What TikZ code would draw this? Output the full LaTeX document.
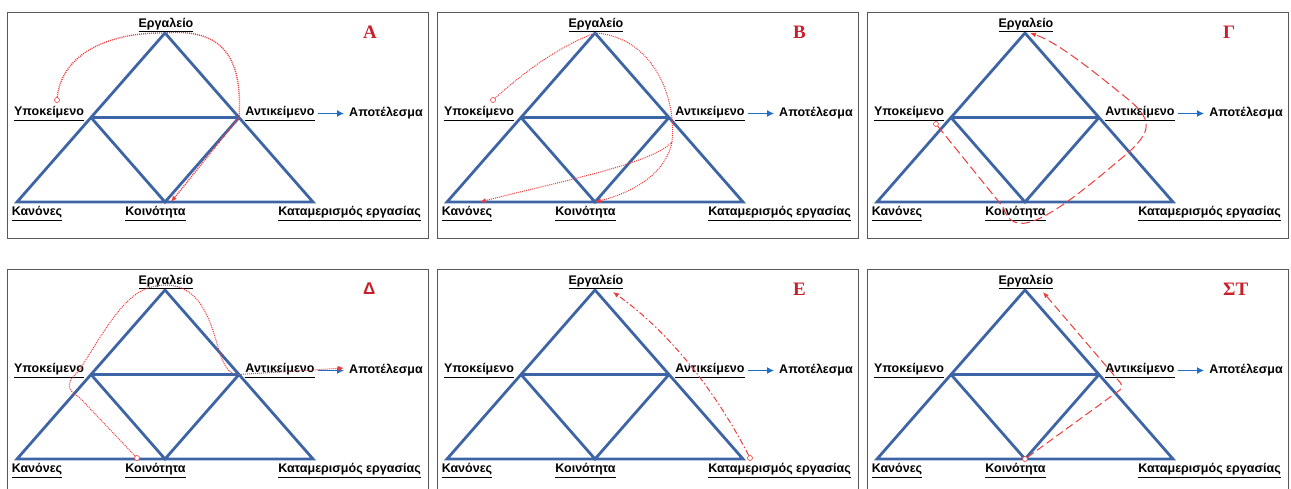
\documentclass[tikz,border=0pt]{standalone}
\usepackage{fontspec}
\setmainfont{Liberation Sans}
\newfontfamily\letterserif{Liberation Serif}
\usetikzlibrary{
    arrows.meta,
    calc,
    positioning
}
\definecolor{triblue}{RGB}{61,101,166}
\definecolor{outblue}{RGB}{30,110,200}
\definecolor{pathred}{RGB}{236,60,60}
\definecolor{letterred}{RGB}{200,32,42}
\tikzset{
    tri/.style={draw=triblue, line width=2.8pt, line join=miter},
    panelframe/.style={draw=black!65, line width=1pt},
    lbl/.style={font=\bfseries\fontsize{12.5}{14}\selectfont, inner sep=0pt},
    outarrow/.style={draw=outblue, line width=1.6pt, -{Latex[length=7pt,width=7pt]}, shorten <=3pt, shorten >=5pt},
    letter/.style={text=letterred, font=\bfseries\fontsize{19}{20}\selectfont, inner sep=0pt, anchor=west},
    redpath/.style={draw=pathred, line width=1pt, -{Latex[length=6pt,width=5pt]}},
    startdot/.style={circle, draw=pathred, fill=white, line width=0.6pt, inner sep=0pt, minimum size=5pt}
}
% one panel: frame, triangle, labels, panel letter
\newcommand{\activitypanel}[1]{%
    \draw[panelframe] (0,0) rectangle (421,226);
    \coordinate (T) at (158,21);
    \coordinate (K) at (10,190);
    \coordinate (D) at (306,190);
    \coordinate (S) at ($(T)!0.5!(K)$);
    \coordinate (O) at ($(T)!0.5!(D)$);
    \coordinate (C) at ($(K)!0.5!(D)$);
    \draw[tri] (T) -- (K) -- (D) -- cycle
    (S) -- (O)
    (S) -- (C) -- (O);
    \node[lbl] (tool) at (159,13) {\underline{Εργαλείο}};
    \node[lbl] (subject) at (42,101.5) {\underline{Υποκείμενο}};
    \node[lbl] (object) at (273,101.5) {\underline{Αντικείμενο}};
    \node[lbl] (outcome) at (379,101) {Αποτέλεσμα};
    \node[lbl] (rules) at (30,201.5) {\underline{Κανόνες}};
    \node[lbl] (community) at (148.5,201.5) {\underline{Κοινότητα}};
    \node[lbl] (division) at (342.5,201.5) {\underline{Καταμερισμός εργασίας}};
    \draw[outarrow] (object.east) -- (object.east -| outcome.west);
    \node[letter] (mark) at (356,20) {#1};
}

\begin{document}
\begin{tikzpicture}[x=1pt, y=-1pt]
    \useasboundingbox (0,0) rectangle (1291,488);
    \begin{scope}[shift={(7,12)}]
        \activitypanel{\letterserif Α}
        \node[startdot] (start) at (50,88) {};
        \draw[redpath, densely dotted, line width=1.4pt]
        (start) .. controls (55,40) and (105,20) .. (T)
        .. controls (215,16) and (236,45) .. (O) -- ([xshift=6pt]C);
    \end{scope}
    \begin{scope}[shift={(437,12)}]
        \activitypanel{\letterserif Β}
        \node[startdot] (start) at (56,88) {};
        \coordinate (split) at (235,130);
        \draw[redpath, densely dotted]
        (start) .. controls (85,62) and (120,35) .. (T)
        .. controls (212,24) and (240,80) .. (split)
        .. controls (228,165) and (190,182) .. (C);
        \draw[redpath, densely dotted]
        (split) .. controls (215,152) and (120,170) .. ([xshift=33pt]K);
    \end{scope}
    \begin{scope}[shift={(867,12)}]
        \activitypanel{\letterserif Γ}
        \node[startdot] (start) at (69,112) {};
        \draw[redpath, dash pattern=on 9pt off 4pt]
        (start) -- (136,195) .. controls (146,226) and (175,214) .. (250,150)
        .. controls (285,122) and (288,110) .. (262,88)
        .. controls (225,58) and (190,30) .. ([xshift=5pt]T);
    \end{scope}
    \begin{scope}[shift={(7,269)}]
        \activitypanel{\bfseries\fontsize{17}{18}\selectfont Δ}
        \node[startdot] (start) at (130,189) {};
        \draw[redpath, densely dotted]
        (start) -- (72,128) .. controls (58,120) and (60,112) .. (72,102)
        .. controls (110,40) and (125,17) .. (158,16)
        .. controls (195,16) and (204,55) .. (211,78)
        .. controls (217,98) and (222,106) .. (O)
        -- ([shift={(-5pt,2pt)}]outcome.west);
    \end{scope}
    \begin{scope}[shift={(437,269)}]
        \activitypanel{\letterserif Ε}
        \node[startdot] (start) at (313,189) {};
        \draw[redpath, dash pattern=on 6pt off 2.5pt on 1.5pt off 2.5pt]
        (start) .. controls (280,125) and (235,65) .. ([shift={(18pt,-2pt)}]T);
    \end{scope}
    \begin{scope}[shift={(867,269)}]
        \activitypanel{\letterserif ΣΤ}
        \node[startdot] (start) at (C) {};
        \draw[redpath, dash pattern=on 8pt off 4pt, rounded corners=5pt]
        (start) -- (257,118) -- ([shift={(18pt,-2pt)}]T);
    \end{scope}
\end{tikzpicture}
\end{document}
